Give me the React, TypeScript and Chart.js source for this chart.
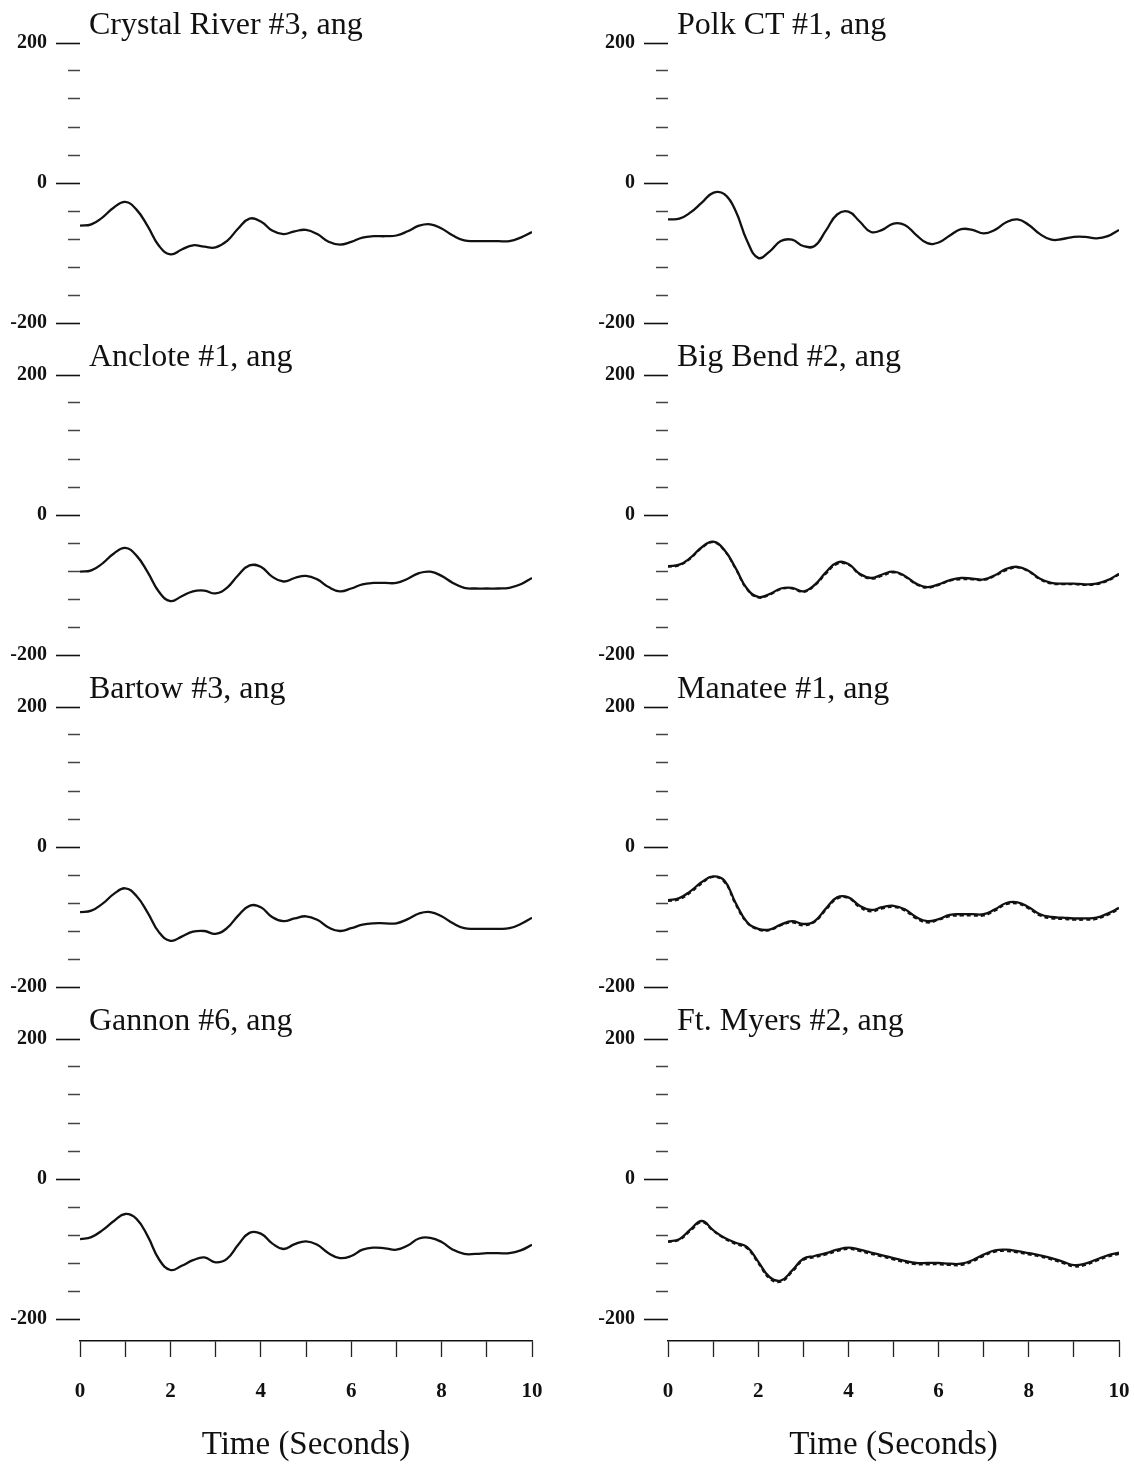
import React, { useEffect, useRef } from 'react';
import { Chart, registerables } from 'chart.js';

Chart.register(...registerables);

// ---------- data ----------
const TIMES = [0, 0.25, 0.5, 0.75, 1, 1.25, 1.5, 1.75, 2, 2.25, 2.5, 2.75, 3, 3.25, 3.5, 3.75, 4, 4.25, 4.5, 4.75, 5, 5.25, 5.5, 5.75, 6, 6.25, 6.5, 6.75, 7, 7.25, 7.5, 7.75, 8, 8.25, 8.5, 8.75, 9, 9.25, 9.5, 9.75, 10];

const CRYSTAL_RIVER = [-61, -59, -49, -35, -27, -38, -62, -90, -102, -95, -89, -91, -92, -83, -65, -51, -55, -68, -73, -69, -67, -73, -84, -88, -84, -78, -76, -76, -75, -69, -61, -59, -65, -75, -82, -83, -83, -83, -83, -78, -70];
const POLK_CT = [-52, -51, -42, -28, -14, -16, -40, -82, -107, -98, -83, -81, -90, -90, -68, -45, -41, -55, -70, -67, -58, -60, -74, -86, -85, -75, -66, -67, -72, -67, -56, -52, -60, -73, -81, -80, -77, -77, -79, -76, -67];
const ANCLOTE = [-81, -79, -69, -55, -47, -58, -82, -110, -123, -116, -109, -108, -112, -104, -86, -72, -74, -88, -95, -90, -87, -92, -103, -109, -105, -99, -97, -97, -97, -91, -83, -81, -87, -97, -104, -105, -105, -105, -104, -99, -90];
const BIG_BEND = [-73, -71, -61, -46, -38, -50, -76, -105, -117, -113, -105, -104, -109, -100, -82, -68, -70, -84, -90, -85, -81, -87, -98, -103, -99, -93, -90, -91, -92, -86, -77, -74, -80, -91, -97, -98, -98, -99, -98, -93, -84];
const BIG_BEND_ALT = [-74, -72, -62, -47, -39, -51, -77, -106, -118, -114, -106, -105, -110, -101, -84, -70, -71, -85, -91, -87, -82, -88, -99, -104, -100, -94, -92, -92, -93, -87, -79, -75, -81, -92, -98, -99, -99, -100, -99, -94, -85];
const BARTOW = [-93, -91, -81, -67, -59, -70, -94, -122, -134, -128, -121, -120, -124, -116, -98, -84, -86, -100, -106, -102, -99, -104, -115, -120, -116, -111, -109, -109, -109, -103, -95, -93, -99, -109, -116, -117, -117, -117, -116, -110, -101];
const MANATEE = [-76, -73, -63, -50, -42, -48, -80, -107, -117, -118, -111, -106, -110, -106, -88, -72, -72, -84, -90, -86, -84, -89, -100, -106, -103, -97, -96, -96, -96, -89, -80, -79, -86, -96, -100, -101, -102, -102, -101, -95, -87];
const MANATEE_ALT = [-77, -75, -65, -52, -43, -50, -82, -108, -118, -119, -112, -108, -112, -107, -90, -74, -73, -86, -92, -88, -86, -91, -102, -108, -104, -99, -98, -98, -98, -91, -82, -81, -88, -98, -102, -103, -104, -104, -103, -97, -89];
const GANNON = [-86, -83, -73, -60, -50, -57, -82, -115, -130, -124, -116, -112, -119, -114, -94, -77, -78, -92, -100, -93, -89, -94, -106, -113, -110, -101, -98, -99, -101, -95, -85, -84, -90, -101, -107, -107, -106, -106, -106, -102, -94];
const FT_MYERS = [-89, -86, -72, -60, -73, -84, -91, -97, -118, -140, -145, -131, -114, -110, -106, -101, -98, -101, -105, -109, -113, -117, -120, -120, -120, -121, -121, -116, -108, -102, -101, -103, -106, -109, -113, -118, -123, -121, -115, -109, -105];
const FT_MYERS_ALT = [-90, -87, -74, -62, -74, -85, -93, -99, -120, -142, -147, -133, -116, -112, -108, -103, -100, -103, -107, -111, -115, -119, -122, -122, -122, -123, -123, -118, -110, -104, -103, -105, -108, -111, -115, -120, -125, -123, -117, -111, -107];

const TITLES = [
  'Crystal River #3, ang', 'Polk CT #1, ang',
  'Anclote #1, ang', 'Big Bend #2, ang',
  'Bartow #3, ang', 'Manatee #1, ang',
  'Gannon #6, ang', 'Ft. Myers #2, ang',
];
const Y_LABELED = [200, 0, -200];
const X_LABELED = [0, 2, 4, 6, 8, 10];
const X_TITLE = 'Time (Seconds)';

// ---------- layout ----------
const SERIF = "'Liberation Serif', 'Times New Roman', Times, serif";
const COL_CANVAS_LEFT = [0, 580];
const COL_CANVAS_WIDTH = [560, 554];
const COL_AREA_LEFT = [80, 668];
const COL_AREA_RIGHT = [532, 1119];
const ROW_TOP = [43, 375, 707, 1039];
const AREA_H = 280;
const PAD = 24;
const AXIS_Y = 1341;

type PanelSpec = { title: string; solid: number[]; dashed?: number[]; col: number; row: number };

const PANELS: PanelSpec[] = [
  { title: TITLES[0], solid: CRYSTAL_RIVER, col: 0, row: 0 },
  { title: TITLES[1], solid: POLK_CT, col: 1, row: 0 },
  { title: TITLES[2], solid: ANCLOTE, col: 0, row: 1 },
  { title: TITLES[3], solid: BIG_BEND, dashed: BIG_BEND_ALT, col: 1, row: 1 },
  { title: TITLES[4], solid: BARTOW, col: 0, row: 2 },
  { title: TITLES[5], solid: MANATEE, dashed: MANATEE_ALT, col: 1, row: 2 },
  { title: TITLES[6], solid: GANNON, col: 0, row: 3 },
  { title: TITLES[7], solid: FT_MYERS, dashed: FT_MYERS_ALT, col: 1, row: 3 },
];

const toPoints = (vals: number[]) => TIMES.map((t, i) => ({ x: t, y: vals[i] }));

function Panel({ spec }: { spec: PanelSpec }) {
  const ref = useRef<HTMLCanvasElement>(null);
  const col = spec.col;
  const w = COL_CANVAS_WIDTH[col];
  const h = AREA_H + 2 * PAD;
  useEffect(() => {
    const areaLeft = COL_AREA_LEFT[col] - COL_CANVAS_LEFT[col];
    const padRight = COL_CANVAS_LEFT[col] + w - COL_AREA_RIGHT[col];
    const datasets: any[] = [];
    if (spec.dashed) {
      datasets.push({
        data: toPoints(spec.dashed), borderColor: '#111', borderWidth: 2, borderDash: [4, 3],
        pointRadius: 0, tension: 0.45, fill: false,
      });
    }
    datasets.push({
      data: toPoints(spec.solid), borderColor: '#111', borderWidth: 2.3,
      pointRadius: 0, tension: 0.45, fill: false,
    });
    const isMajor = (ctx: any) => ctx && ctx.tick && Y_LABELED.includes(ctx.tick.value);
    const chart = new Chart(ref.current as HTMLCanvasElement, {
      type: 'line',
      data: { datasets },
      options: {
        animation: false,
        responsive: false,
        layout: { padding: { left: 0, right: padRight, top: PAD, bottom: PAD } },
        plugins: { legend: { display: false }, tooltip: { enabled: false }, title: { display: false } },
        scales: {
          x: { type: 'linear', min: 0, max: 10, display: false },
          y: {
            type: 'linear', min: -200, max: 200,
            afterFit: (s: any) => { s.width = areaLeft; },
            border: { display: false },
            ticks: {
              stepSize: 40, autoSkip: false, padding: 9, color: '#111',
              font: { family: SERIF, size: 20, weight: 'bold' },
              callback: (v: any) => (Y_LABELED.includes(Number(v)) ? String(v) : ''),
            },
            grid: {
              drawOnChartArea: false, drawTicks: true, tickLength: 24,
              tickColor: (ctx: any) => (isMajor(ctx) ? '#111' : '#444'),
              tickWidth: (ctx: any) => (isMajor(ctx) ? 1.6 : 1.3),
              tickBorderDash: (ctx: any) => (isMajor(ctx) ? [] : [0, 12, 12]),
            },
          },
        },
      } as any,
    });
    return () => chart.destroy();
  }, []);
  return (
    <canvas
      ref={ref}
      width={w}
      height={h}
      style={{ position: 'absolute', left: COL_CANVAS_LEFT[col], top: ROW_TOP[spec.row] - PAD, width: w, height: h }}
    />
  );
}

function XAxis({ col }: { col: number }) {
  const ref = useRef<HTMLCanvasElement>(null);
  const w = COL_CANVAS_WIDTH[col];
  const top = 1300;
  const h = 1466 - top;
  const padTop = 30;
  useEffect(() => {
    const areaLeft = COL_AREA_LEFT[col] - COL_CANVAS_LEFT[col];
    const padRight = COL_CANVAS_LEFT[col] + w - COL_AREA_RIGHT[col];
    const axisH = h - padTop - (AXIS_Y - top - padTop);
    const chart = new Chart(ref.current as HTMLCanvasElement, {
      type: 'line',
      data: { datasets: [] },
      options: {
        animation: false,
        responsive: false,
        layout: { padding: { left: areaLeft, right: padRight, top: padTop, bottom: 0 } },
        plugins: { legend: { display: false }, tooltip: { enabled: false } },
        scales: {
          y: { display: false, min: 0, max: 1 },
          x: {
            type: 'linear', min: 0, max: 10, position: 'bottom',
            afterFit: (s: any) => { s.height = axisH; s.paddingLeft = 0; s.paddingRight = 0; },
            border: { display: true, color: '#111', width: 1.5 },
            grid: { drawOnChartArea: false, drawTicks: true, tickLength: 16, tickColor: '#222', tickWidth: 1.3 },
            ticks: {
              stepSize: 1, autoSkip: false, maxRotation: 0, padding: 22, color: '#111',
              font: { family: SERIF, size: 21, weight: 'bold' },
              callback: (v: any) => (X_LABELED.includes(Number(v)) ? String(v) : ''),
            },
            title: {
              display: true, text: X_TITLE, color: '#111',
              font: { family: SERIF, size: 33 }, padding: { top: 0, bottom: 1 },
            },
          },
        },
      } as any,
    });
    return () => chart.destroy();
  }, []);
  return (
    <canvas
      ref={ref}
      width={w}
      height={h}
      style={{ position: 'absolute', left: COL_CANVAS_LEFT[col], top, width: w, height: h }}
    />
  );
}

export default function App() {
  return (
    <div style={{ position: 'absolute', left: 0, top: 0, width: 1134, height: 1466, background: '#fff', overflow: 'hidden' }}>
      {PANELS.map((p, i) => (
        <React.Fragment key={i}>
          <Panel spec={p} />
          <div
            style={{
              position: 'absolute',
              left: COL_AREA_LEFT[p.col] + 9,
              top: ROW_TOP[p.row] - 9 - 27,
              fontFamily: SERIF,
              fontSize: 32,
              lineHeight: '32px',
              color: '#111',
              whiteSpace: 'nowrap',
            }}
          >
            {p.title}
          </div>
        </React.Fragment>
      ))}
      <XAxis col={0} />
      <XAxis col={1} />
    </div>
  );
}
